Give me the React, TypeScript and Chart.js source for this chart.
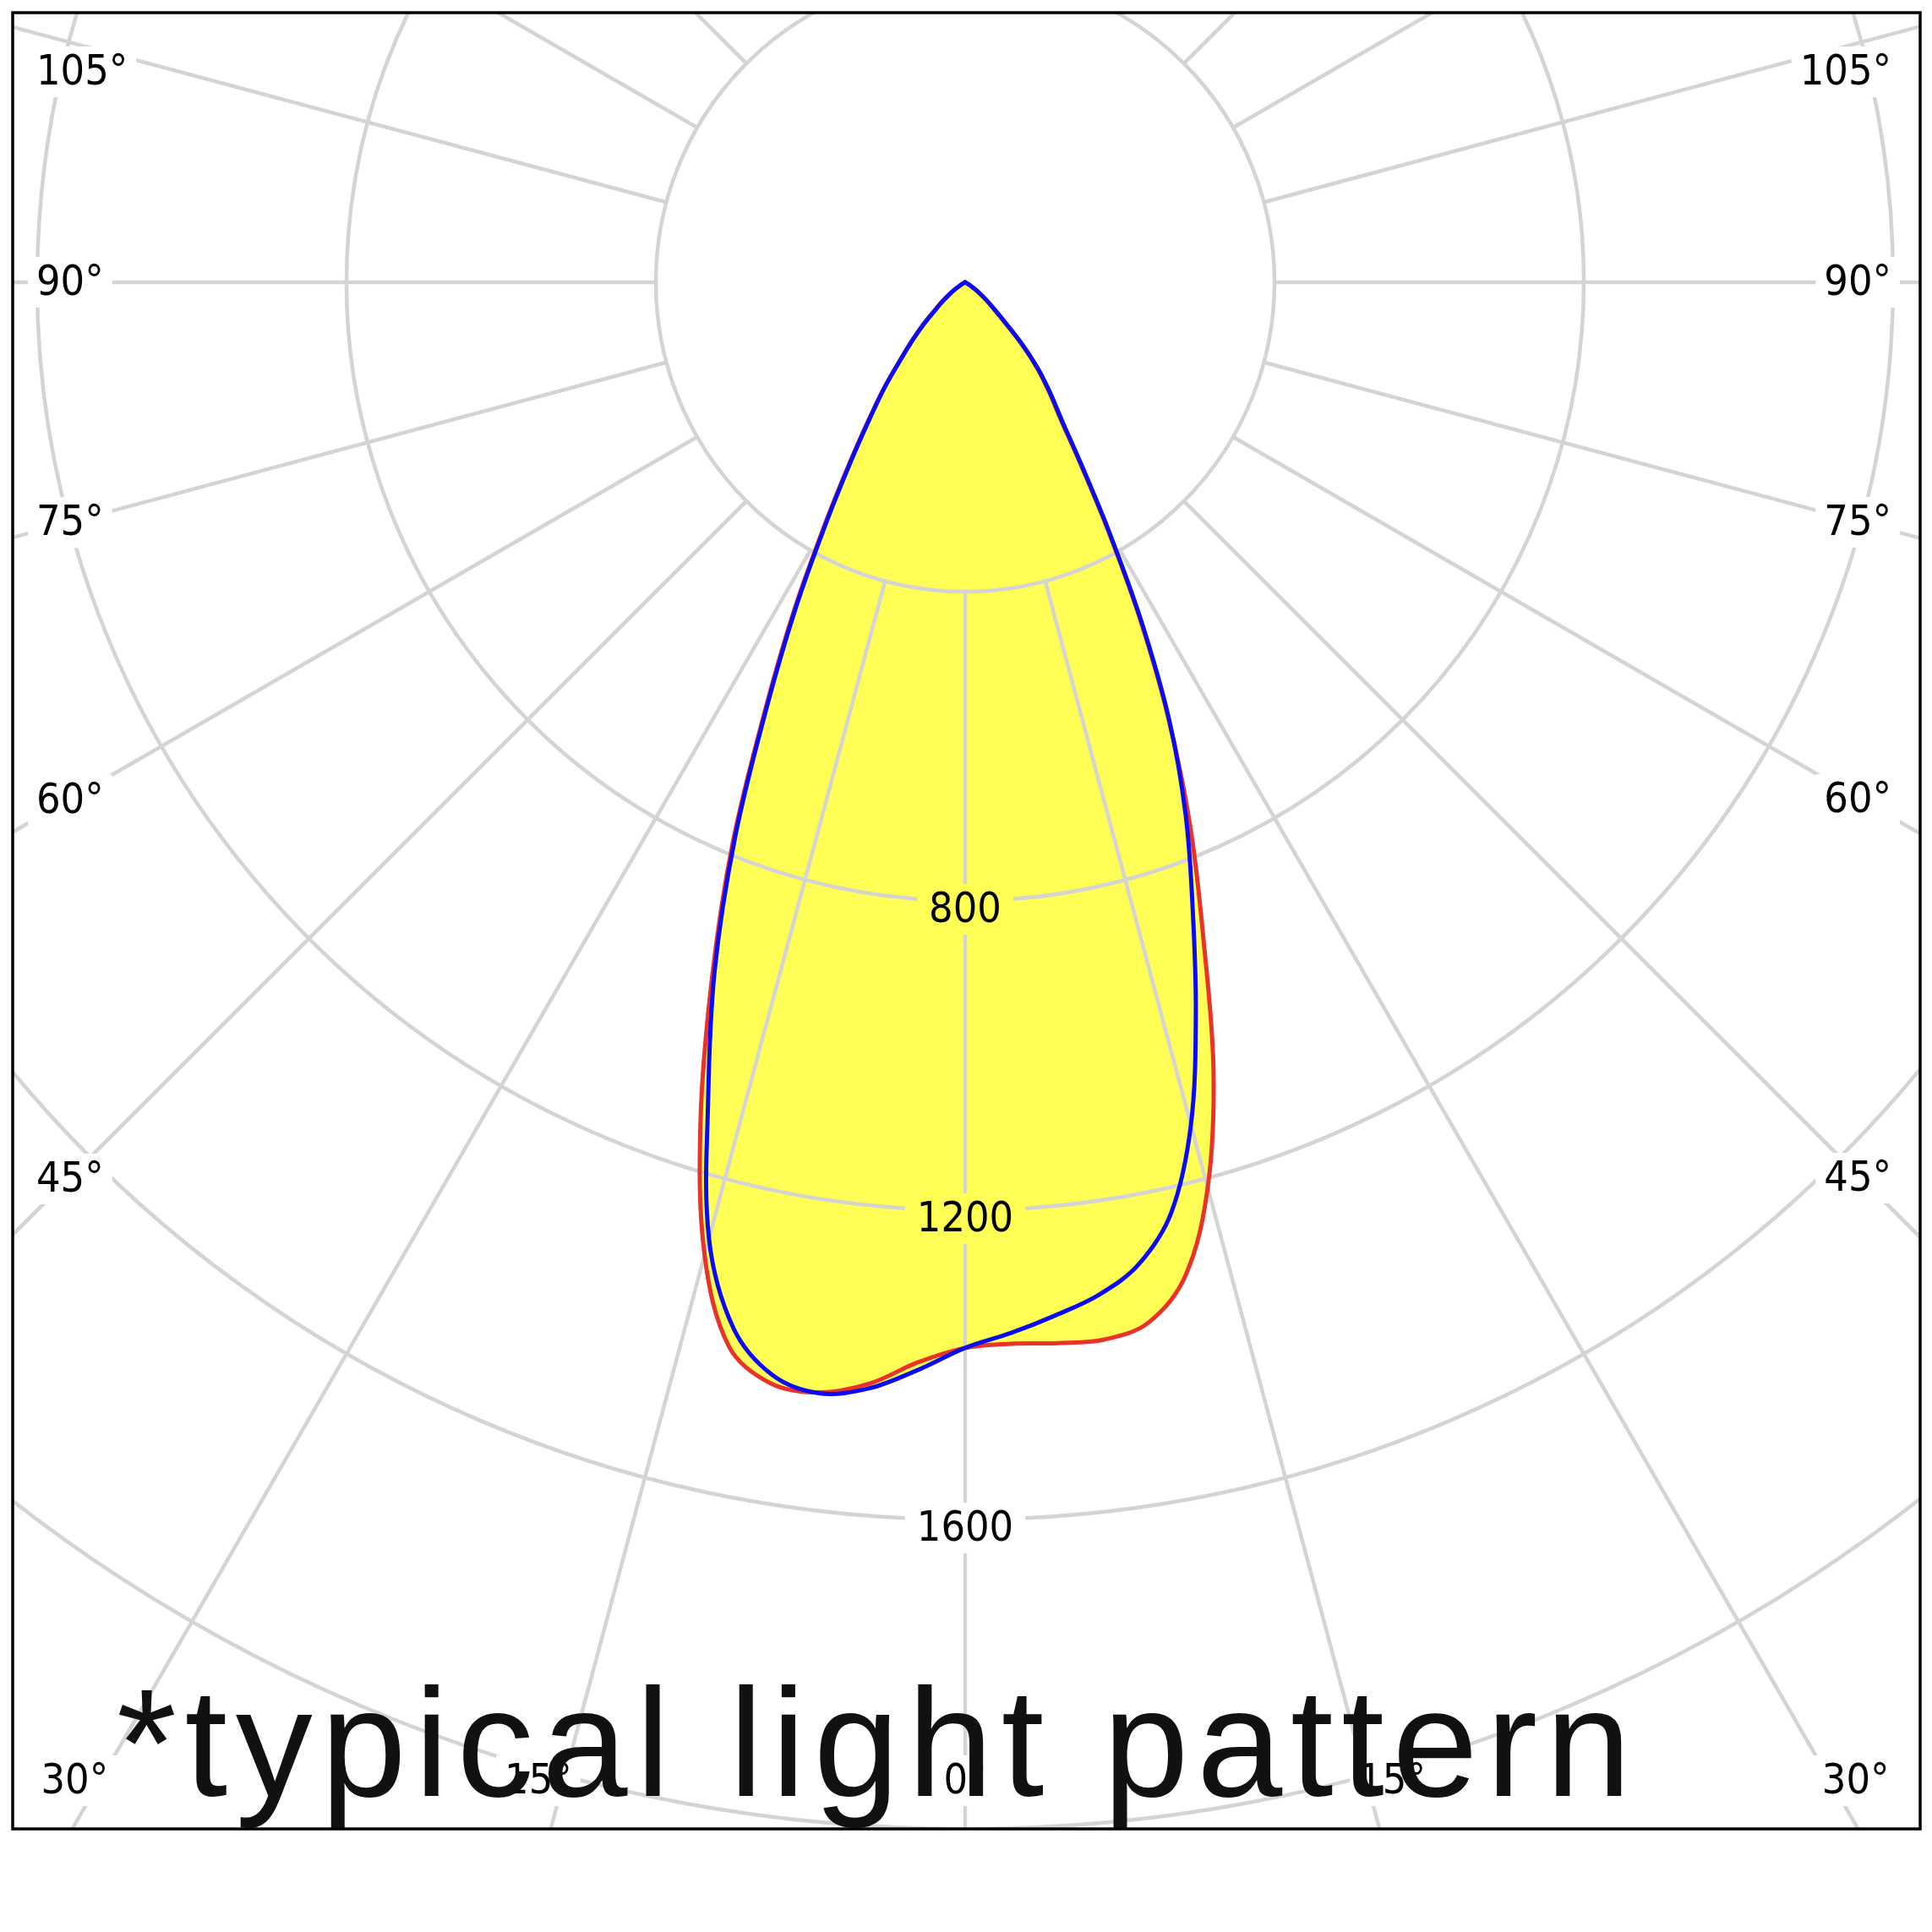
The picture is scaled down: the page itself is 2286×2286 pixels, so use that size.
import React, { useEffect, useRef } from 'react';
import { Chart, registerables } from 'chart.js';

Chart.register(...registerables);

// ---- data (candela values, every 2.5° from nadir) ----
const ANGLE_STEP = 2.5;
const ANGLES = [0, 2.5, 5, 7.5, 10, 12.5, 15, 17.5, 20, 22.5, 25, 27.5, 30, 32.5, 35, 37.5, 40, 42.5, 45, 47.5, 50, 52.5, 55, 57.5, 60];
const RED_LEFT = [1378, 1398, 1430, 1448, 1446, 1410, 1302, 1138, 957, 786, 614, 480, 365, 280, 218, 172, 130, 100, 76, 53, 40, 28, 18, 10, 5];
const RED_RIGHT = [1378, 1374, 1377, 1379, 1366, 1316, 1212, 1068, 900, 760, 622, 488, 368, 276, 214, 178, 145, 108, 70, 48, 35, 24, 15, 8, 4];
const BLUE_LEFT = [1378, 1408, 1436, 1449, 1435, 1385, 1280, 1105, 947, 778, 608, 474, 360, 276, 215, 170, 128, 98, 72, 50, 36, 25, 16, 9, 4];
const BLUE_RIGHT = [1378, 1360, 1341, 1321, 1290, 1232, 1128, 992, 860, 745, 624, 492, 372, 280, 218, 181, 148, 110, 72, 50, 36, 25, 16, 9, 4];

const RING_VALUES = [400, 800, 1200, 1600, 2000, 2400];
const RING_LABEL_VALUES = [800, 1200, 1600];
const SPOKE_STEP = 15;
const ANGLE_LABELS = [0, 15, 30, 45, 60, 75, 90, 105];
const TITLE = '*typical light pattern';
const SCALE_MAX = 2400;

// ---- layout / style ----
const CANVAS = 2286;
const FRAME = { left: 15, top: 15, right: 2272, bottom: 2164 };
const CENTER = { x: 1142, y: 334 };
const PX_PER_UNIT = 0.915;
const LABEL_INSET = { left: 81, right: 2202, top: 85, bottom: 2107 };
const LABEL_TEXT_LEFT = 43;
const LABEL_TEXT_RIGHT = 2238;
const RING_LABEL_DROP = 10;
const GRID_COLOR = '#d4d4d4';
const GRID_WIDTH = 4.5;
const LABEL_FONT = '50px "DejaVu Sans Condensed", "DejaVu Sans", sans-serif';
const TITLE_FONT = '182px "Liberation Sans", Arial, sans-serif';
const TITLE_LEFT = 138;
const TITLE_RIGHT = 1930;
const TITLE_BASELINE = 2125;

const N = Math.round(360 / ANGLE_STEP);

function buildSeries(left: number[], right: number[]): number[] {
  const out = new Array(N).fill(0);
  ANGLES.forEach((a, i) => {
    const k = Math.round(a / ANGLE_STEP);
    out[k] = left[i];
    if (k > 0) out[N - k] = right[i];
  });
  return out;
}

const LABELS = Array.from({ length: N }, (_, i) => String(i * ANGLE_STEP));

function fixScale(s: any) {
  if (!s) return;
  s.xCenter = CENTER.x;
  s.yCenter = CENTER.y;
  s.drawingArea = SCALE_MAX * PX_PER_UNIT;
}

function clipFrame(ctx: CanvasRenderingContext2D) {
  ctx.beginPath();
  ctx.rect(FRAME.left, FRAME.top, FRAME.right - FRAME.left, FRAME.bottom - FRAME.top);
  ctx.clip();
}

function angleLabelPos(s: any, idx: number) {
  const b = s.getPointPositionForValue(idx, SCALE_MAX);
  const dx = b.x - s.xCenter;
  const dy = b.y - s.yCenter;
  const len = Math.hypot(dx, dy);
  const ux = dx / len;
  const uy = dy / len;
  if (Math.abs(ux) > 1e-6) {
    const xEdge = ux < 0 ? LABEL_INSET.left : LABEL_INSET.right;
    const t = (xEdge - s.xCenter) / ux;
    const y = s.yCenter + t * uy;
    if (y <= LABEL_INSET.bottom) {
      return {
        x: ux < 0 ? LABEL_TEXT_LEFT : LABEL_TEXT_RIGHT,
        y: Math.max(y, LABEL_INSET.top),
        align: (ux < 0 ? 'left' : 'right') as CanvasTextAlign,
      };
    }
  }
  const t = (LABEL_INSET.bottom - s.yCenter) / uy;
  const shift = Math.abs(ux) > 1e-6 ? Math.sign(ux) * 30 : 0;
  return { x: s.xCenter + t * ux + shift, y: LABEL_INSET.bottom, align: 'center' as CanvasTextAlign };
}

const polarPlugin = {
  id: 'polarDecor',
  afterLayout(chart: any) {
    fixScale(chart.scales.r);
  },
  beforeDatasetsDraw(chart: any) {
    const s = chart.scales.r;
    const ctx: CanvasRenderingContext2D = chart.ctx;
    const perSpoke = Math.round(SPOKE_STEP / ANGLE_STEP);
    const spokeCount = Math.round(360 / SPOKE_STEP);
    ctx.save();
    clipFrame(ctx);
    ctx.font = LABEL_FONT;
    const ringLabels = RING_LABEL_VALUES.map((v) => {
      const p = s.getPointPositionForValue(0, v);
      const w = ctx.measureText(String(v)).width;
      return { v, p, cy: p.y + RING_LABEL_DROP, hw: w / 2 + 14, hh: 30 };
    });
    ctx.strokeStyle = GRID_COLOR;
    ctx.lineWidth = GRID_WIDTH;
    // rings
    for (const v of RING_VALUES) {
      const R = s.getDistanceFromCenterForValue(v);
      const lab = ringLabels.find((l) => l.v === v);
      ctx.beginPath();
      if (lab) {
        const g = Math.asin(Math.min(1, lab.hw / R));
        ctx.arc(s.xCenter, s.yCenter, R, Math.PI / 2 + g, Math.PI / 2 - g + 2 * Math.PI);
      } else {
        ctx.arc(s.xCenter, s.yCenter, R, 0, 2 * Math.PI);
      }
      ctx.stroke();
    }
    // spokes (from the first ring outward)
    for (let j = 0; j < spokeCount; j++) {
      const idx = j * perSpoke;
      const a = s.getPointPositionForValue(idx, RING_VALUES[0]);
      const b = s.getPointPositionForValue(idx, SCALE_MAX * 1.3);
      if (j === 0) {
        let yStart = a.y;
        const gaps = ringLabels.map((l) => [l.cy - l.hh, l.cy + l.hh]).sort((m, n) => m[0] - n[0]);
        for (const [g0, g1] of gaps) {
          ctx.beginPath();
          ctx.moveTo(a.x, yStart);
          ctx.lineTo(a.x, g0);
          ctx.stroke();
          yStart = g1;
        }
        ctx.beginPath();
        ctx.moveTo(a.x, yStart);
        ctx.lineTo(b.x, b.y);
        ctx.stroke();
      } else {
        ctx.beginPath();
        ctx.moveTo(a.x, a.y);
        ctx.lineTo(b.x, b.y);
        ctx.stroke();
      }
    }
    // ring value labels
    ctx.fillStyle = '#000';
    ctx.textAlign = 'center';
    ctx.textBaseline = 'middle';
    for (const l of ringLabels) {
      ctx.fillText(String(l.v), l.p.x, l.cy + 2);
    }
    ctx.restore();
  },
  afterDatasetsDraw(chart: any) {
    const s = chart.scales.r;
    const ctx: CanvasRenderingContext2D = chart.ctx;
    const perSpoke = Math.round(SPOKE_STEP / ANGLE_STEP);
    ctx.save();
    clipFrame(ctx);
    ctx.font = LABEL_FONT;
    ctx.textBaseline = 'middle';
    const items: { idx: number; text: string }[] = [];
    ANGLE_LABELS.forEach((deg) => {
      const k = Math.round(deg / SPOKE_STEP) * perSpoke;
      items.push({ idx: k, text: `${deg}°` });
      if (k > 0) items.push({ idx: N - k, text: `${deg}°` });
    });
    for (const it of items) {
      const pos = angleLabelPos(s, it.idx);
      const w = ctx.measureText(it.text).width;
      let x0 = pos.x - w / 2;
      if (pos.align === 'left') x0 = pos.x;
      if (pos.align === 'right') x0 = pos.x - w;
      ctx.fillStyle = '#fff';
      ctx.fillRect(x0 - 10, pos.y - 30, w + 20, 60);
      ctx.fillStyle = '#000';
      ctx.textAlign = 'left';
      ctx.fillText(it.text, x0, pos.y + 2);
    }
    ctx.restore();
  },
  afterDraw(chart: any) {
    const ctx: CanvasRenderingContext2D = chart.ctx;
    ctx.save();
    clipFrame(ctx);
    ctx.font = TITLE_FONT;
    ctx.fillStyle = '#111';
    ctx.textAlign = 'left';
    ctx.textBaseline = 'alphabetic';
    const natural = ctx.measureText(TITLE).width;
    const spacing = (TITLE_RIGHT - TITLE_LEFT - natural) / (TITLE.length - 1);
    (ctx as any).letterSpacing = `${spacing}px`;
    ctx.fillText(TITLE, TITLE_LEFT, TITLE_BASELINE);
    ctx.restore();
    ctx.save();
    ctx.strokeStyle = '#000';
    ctx.lineWidth = 3.5;
    ctx.strokeRect(FRAME.left, FRAME.top, FRAME.right - FRAME.left, FRAME.bottom - FRAME.top);
    ctx.restore();
  },
};

export default function App() {
  const ref = useRef<HTMLCanvasElement>(null);
  useEffect(() => {
    if (!ref.current) return;
    const chart = new Chart(ref.current, {
      type: 'radar',
      data: {
        labels: LABELS,
        datasets: [
          {
            label: 'C90-C270',
            data: buildSeries(BLUE_LEFT, BLUE_RIGHT),
            borderColor: '#0a0af5',
            backgroundColor: '#ffff55',
            borderWidth: 5,
            fill: 'origin',
            pointRadius: 0,
            tension: 0.35,
          },
          {
            label: 'C0-C180',
            data: buildSeries(RED_LEFT, RED_RIGHT),
            borderColor: '#e8322a',
            backgroundColor: '#ffff55',
            borderWidth: 5,
            fill: 'origin',
            pointRadius: 0,
            tension: 0.35,
          },
        ],
      },
      options: {
        responsive: false,
        animation: false,
        devicePixelRatio: 1,
        layout: { padding: 0 },
        plugins: {
          legend: { display: false },
          tooltip: { enabled: false },
          filler: { drawTime: 'beforeDatasetsDraw' },
        },
        scales: {
          r: {
            type: 'radialLinear',
            min: 0,
            max: SCALE_MAX,
            startAngle: 180,
            display: false,
            afterFit: (scale: any) => fixScale(scale),
          },
        },
      },
      plugins: [polarPlugin],
    } as any);
    return () => chart.destroy();
  }, []);
  return (
    <div style={{ position: 'absolute', left: 0, top: 0, width: CANVAS, height: CANVAS, background: '#fff' }}>
      <canvas ref={ref} width={CANVAS} height={CANVAS} style={{ display: 'block', width: CANVAS, height: CANVAS }} />
    </div>
  );
}
